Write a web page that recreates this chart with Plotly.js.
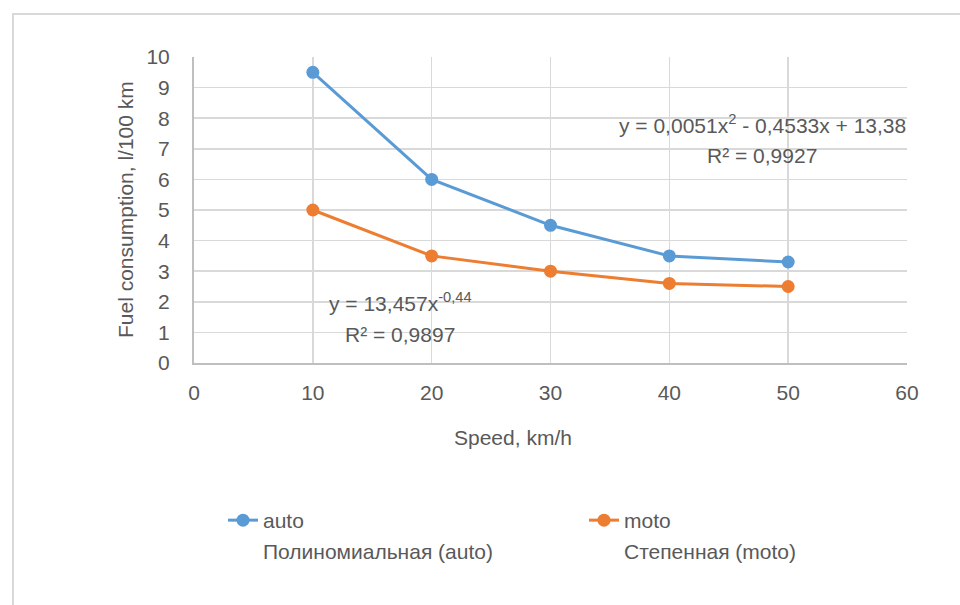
<!DOCTYPE html>
<html><head><meta charset="utf-8">
<script src="https://cdn.plot.ly/plotly-3.0.1.min.js"></script>
<style>body{margin:0;background:#fff}#c{width:960px;height:605px}</style>
</head><body><div id="c"></div>
<script>
const speed = [10, 20, 30, 40, 50];
const autoFuel = [9.5, 6.0, 4.5, 3.5, 3.3];
const motoFuel = [5.0, 3.5, 3.0, 2.6, 2.5];
const xTicks = [0, 10, 20, 30, 40, 50, 60];
const yTicks = [0, 1, 2, 3, 4, 5, 6, 7, 8, 9, 10];

const FONT = '"Liberation Sans Narrow", "Arial Narrow", "Liberation Sans", Arial, sans-serif';
const TXT = '#595959';
const BLUE = '#5B9BD5', ORANGE = '#ED7D31';

const traces = [
  {x: speed, y: autoFuel, name: 'auto', mode: 'lines+markers', legend: 'legend',
   line: {color: BLUE, width: 3}, marker: {color: BLUE, size: 13}},
  {x: speed, y: autoFuel, name: 'Полиномиальная (auto)', mode: 'lines', legend: 'legend',
   line: {color: 'rgba(0,0,0,0)', width: 0}, hoverinfo: 'skip'},
  {x: speed, y: motoFuel, name: 'moto', mode: 'lines+markers', legend: 'legend2',
   line: {color: ORANGE, width: 3}, marker: {color: ORANGE, size: 13}},
  {x: speed, y: motoFuel, name: 'Степенная (moto)', mode: 'lines', legend: 'legend2',
   line: {color: 'rgba(0,0,0,0)', width: 0}, hoverinfo: 'skip'}
];

const L = 194, R = 907, T = 57, B = 363;
const px = v => (v - L) / (R - L);
const py = v => (B - v) / (B - T);

const legendBase = {orientation: 'v', xanchor: 'left', yanchor: 'top',
  font: {size: 21, color: TXT}, traceorder: 'normal', bgcolor: 'rgba(0,0,0,0)'};

const layout = {
  width: 960, height: 605,
  margin: {l: L, r: 960 - R, t: T, b: 605 - B, autoexpand: false},
  paper_bgcolor: '#fff', plot_bgcolor: '#fff',
  font: {family: FONT, size: 21, color: TXT},
  showlegend: true,
  legend: Object.assign({}, legendBase, {x: px(223), y: py(500)}),
  legend2: Object.assign({}, legendBase, {x: px(584), y: py(500)}),
  xaxis: {range: [0, 60], tickvals: xTicks, ticktext: xTicks.map(String),
          showgrid: true, gridcolor: '#d9d9d9', gridwidth: 1.5,
          showline: true, linecolor: '#bfbfbf', linewidth: 2,
          zeroline: false, ticks: '', ticklabelstandoff: 10, fixedrange: true},
  yaxis: {range: [0, 10], tickvals: yTicks, ticktext: yTicks.map(String),
          showgrid: true, gridcolor: '#d9d9d9', gridwidth: 1.5,
          showline: true, linecolor: '#bfbfbf', linewidth: 2,
          zeroline: false, ticks: '', ticklabelstandoff: 18, fixedrange: true},
  annotations: [
    {xref: 'paper', yref: 'paper', x: px(513), y: py(437), text: 'Speed, km/h',
     showarrow: false, xanchor: 'center', yanchor: 'middle'},
    {xref: 'paper', yref: 'paper', x: px(125), y: py(210), text: 'Fuel consumption, l/100 km',
     showarrow: false, textangle: -90, xanchor: 'center', yanchor: 'middle'},
    {xref: 'paper', yref: 'paper', x: px(762), y: py(124),
     text: 'y = 0,0051x<sup>2</sup> - 0,4533x + 13,38', showarrow: false, xanchor: 'center', yanchor: 'middle'},
    {xref: 'paper', yref: 'paper', x: px(762), y: py(155),
     text: 'R² = 0,9927', showarrow: false, xanchor: 'center', yanchor: 'middle'},
    {xref: 'paper', yref: 'paper', x: px(400), y: py(302),
     text: 'y = 13,457x<sup>-0,44</sup>', showarrow: false, xanchor: 'center', yanchor: 'middle'},
    {xref: 'paper', yref: 'paper', x: px(400), y: py(334),
     text: 'R² = 0,9897', showarrow: false, xanchor: 'center', yanchor: 'middle'}
  ],
  shapes: [
    {type: 'rect', xref: 'paper', yref: 'paper', x0: px(13), x1: px(975), y0: py(620), y1: py(14),
     line: {color: '#d9d9d9', width: 2}, fillcolor: 'rgba(0,0,0,0)', layer: 'below'}
  ]
};

Plotly.newPlot('c', traces, layout, {displayModeBar: false, staticPlot: true});
</script></body></html>
